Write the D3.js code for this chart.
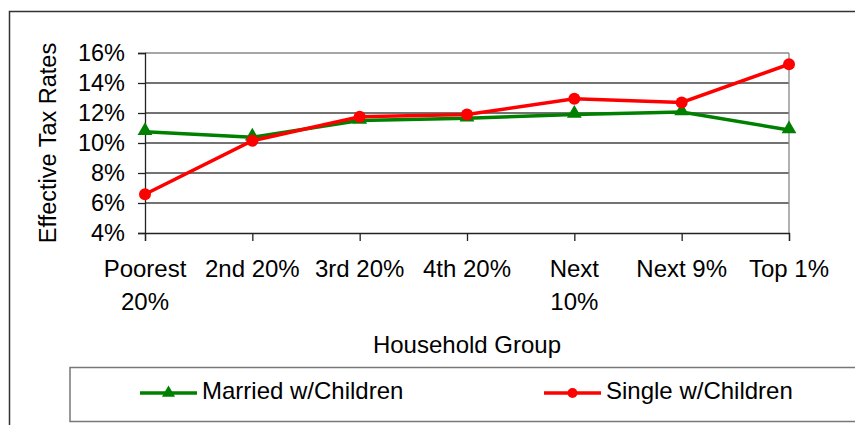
<!DOCTYPE html>
<html>
<head>
<meta charset="utf-8">
<script src="https://cdn.jsdelivr.net/npm/d3@7"></script>
<style>
  body { margin: 0; background: #fff; }
  svg { display: block; font-family: Arial, "Liberation Sans", sans-serif; }
</style>
</head>
<body>
<svg id="chart" width="855" height="425"></svg>
<script>
const categories = [["Poorest", "20%"], ["2nd 20%"], ["3rd 20%"], ["4th 20%"], ["Next", "10%"], ["Next 9%"], ["Top 1%"]];
const married = [10.75, 10.38, 11.5, 11.65, 11.9, 12.07, 10.87];
const single = [6.58, 10.15, 11.75, 11.9, 12.95, 12.7, 15.25];
const yTicks = [4, 6, 8, 10, 12, 14, 16];

const svg = d3.select("#chart");
const fontSize = 24;

// outer chart frame
svg.append("rect")
    .attr("x", 9.5).attr("y", 11.5)
    .attr("width", 860).attr("height", 430)
    .attr("fill", "none").attr("stroke", "#333").attr("stroke-width", 1.5);

const x = d3.scalePoint()
    .domain(d3.range(categories.length))
    .range([145, 789]);

const y = d3.scaleLinear()
    .domain([4, 16])
    .range([233, 53]);

// gridlines
svg.append("g")
    .selectAll("line")
    .data(yTicks.slice(1))
    .enter().append("line")
    .attr("x1", 145).attr("x2", 789)
    .attr("y1", d => y(d)).attr("y2", d => y(d))
    .attr("stroke", d => d === 16 ? "#888" : "#444")
    .attr("stroke-width", 1.3);

// right border of plot area
svg.append("line")
    .attr("x1", 789).attr("x2", 789)
    .attr("y1", 53).attr("y2", 233)
    .attr("stroke", "#888").attr("stroke-width", 1.3);

// y axis
const yAxis = svg.append("g")
    .attr("transform", "translate(145,0)")
    .call(d3.axisLeft(y).tickValues(yTicks).tickFormat(d => d + "%").tickSize(7).tickPadding(13));
yAxis.select(".domain").attr("stroke", "#222").attr("stroke-width", 1.3);
yAxis.selectAll(".tick line").attr("stroke", "#222").attr("stroke-width", 1.3);
yAxis.selectAll("text")
    .attr("font-size", 23.5).attr("fill", "#000")
    .attr("font-family", "Arial, 'Liberation Sans', sans-serif");

// x axis
const xAxis = svg.append("g")
    .attr("transform", "translate(0,233)")
    .call(d3.axisBottom(x).tickSize(8).tickFormat(""));
xAxis.select(".domain").attr("stroke", "#222").attr("stroke-width", 1.3);
xAxis.selectAll(".tick line").attr("stroke", "#222").attr("stroke-width", 1.3);

// category labels (some wrap onto two lines)
const labels = svg.append("g")
    .attr("font-size", fontSize)
    .attr("text-anchor", "middle")
    .attr("fill", "#000");
categories.forEach((lines, i) => {
    const t = labels.append("text").attr("x", x(i)).attr("y", 277);
    lines.forEach((s, j) => {
        t.append("tspan").attr("x", x(i)).attr("dy", j === 0 ? 0 : 33).text(s);
    });
});

// axis titles
svg.append("text")
    .attr("x", 467).attr("y", 353)
    .attr("text-anchor", "middle")
    .attr("font-size", fontSize)
    .text("Household Group");

svg.append("text")
    .attr("transform", "translate(56,143) rotate(-90)")
    .attr("text-anchor", "middle")
    .attr("font-size", 23.5)
    .text("Effective Tax Rates");

const line = d3.line()
    .x((d, i) => x(i))
    .y(d => y(d));

const triangle = d3.symbol().type(d3.symbolTriangle).size(95);

// married series
svg.append("path")
    .datum(married)
    .attr("d", line)
    .attr("fill", "none")
    .attr("stroke", "#008000")
    .attr("stroke-width", 3.5);
svg.append("g")
    .selectAll("path")
    .data(married)
    .enter().append("path")
    .attr("d", triangle)
    .attr("transform", (d, i) => `translate(${x(i)},${y(d) - 1})`)
    .attr("fill", "#008000");

// single series
svg.append("path")
    .datum(single)
    .attr("d", line)
    .attr("fill", "none")
    .attr("stroke", "#ff0000")
    .attr("stroke-width", 3.5);
svg.append("g")
    .selectAll("circle")
    .data(single)
    .enter().append("circle")
    .attr("cx", (d, i) => x(i))
    .attr("cy", d => y(d))
    .attr("r", 6)
    .attr("fill", "#ff0000");

// legend
svg.append("rect")
    .attr("x", 70).attr("y", 367.5)
    .attr("width", 800).attr("height", 54)
    .attr("fill", "none").attr("stroke", "#777").attr("stroke-width", 1.5);

const legendItems = [
    { name: "Married w/Children", color: "#008000", marker: "triangle", x0: 140 },
    { name: "Single w/Children", color: "#ff0000", marker: "circle", x0: 544 }
];
legendItems.forEach(item => {
    const g = svg.append("g");
    g.append("line")
        .attr("x1", item.x0).attr("x2", item.x0 + 57)
        .attr("y1", 393).attr("y2", 393)
        .attr("stroke", item.color).attr("stroke-width", 3.5);
    if (item.marker === "triangle") {
        g.append("path")
            .attr("d", d3.symbol().type(d3.symbolTriangle).size(75))
            .attr("transform", `translate(${item.x0 + 28.5},393)`)
            .attr("fill", item.color);
    } else {
        g.append("circle")
            .attr("cx", item.x0 + 28.5).attr("cy", 393).attr("r", 5)
            .attr("fill", item.color);
    }
    g.append("text")
        .attr("x", item.x0 + 62).attr("y", 399)
        .attr("font-size", fontSize)
        .text(item.name);
});
</script>
</body>
</html>
